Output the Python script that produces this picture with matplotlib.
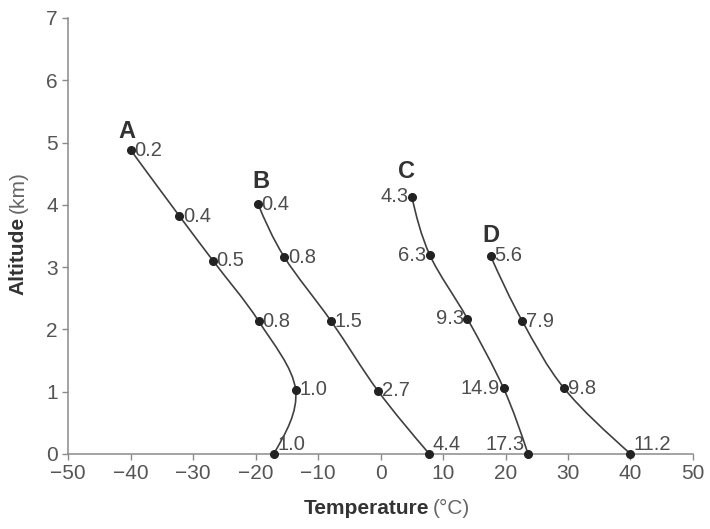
import numpy as np
import matplotlib
matplotlib.use("Agg")
import matplotlib.pyplot as plt
from matplotlib.path import Path
from matplotlib.patches import PathPatch

plt.rcParams['font.family'] = ['Liberation Sans', 'DejaVu Sans']

#==========================
# DATA (temperature, altitude, value labels)
#==========================
A_T = [-17.1, -13.6, -19.5, -26.8, -32.2, -40.0]
A_z = [0.0, 1.03, 2.13, 3.10, 3.82, 4.88]
A_lbl = ['1.0', '1.0', '0.8', '0.5', '0.4', '0.2']

B_T = [7.8, -0.4, -7.9, -15.4, -19.6]
B_z = [0.0, 1.01, 2.13, 3.16, 4.01]
B_lbl = ['4.4', '2.7', '1.5', '0.8', '0.4']

C_T = [23.6, 19.7, 13.9, 7.9, 5.0]
C_z = [0.0, 1.05, 2.17, 3.19, 4.13]
C_lbl = ['17.3', '14.9', '9.3', '6.3', '4.3']

D_T = [40.0, 29.4, 22.7, 17.6]
D_z = [0.0, 1.05, 2.13, 3.18]
D_lbl = ['11.2', '9.8', '7.9', '5.6']

xticks = [-50, -40, -30, -20, -10, 0, 10, 20, 30, 40, 50]
yticks = [0, 1, 2, 3, 4, 5, 6, 7]

LINE = '#404040'
TXT = '#4d4d4d'
AXC = '#8a8a8a'


def smooth_path(xs, ys):
    # Catmull-Rom style bezier through the points, natural ends
    pts = np.column_stack([xs, ys]).astype(float)
    n = len(pts)
    tang = np.zeros_like(pts)
    tang[1:-1] = (pts[2:] - pts[:-2]) / 2.0
    tang[0] = (3 * (pts[1] - pts[0]) - tang[1]) / 2.0
    tang[-1] = (3 * (pts[-1] - pts[-2]) - tang[-2]) / 2.0
    verts = [pts[0]]
    codes = [Path.MOVETO]
    for i in range(n - 1):
        verts += [pts[i] + tang[i] / 3.0, pts[i + 1] - tang[i + 1] / 3.0, pts[i + 1]]
        codes += [Path.CURVE4] * 3
    return Path(verts, codes)


fig = plt.figure(figsize=(7.10, 5.29), dpi=100)
ax = fig.add_axes([0.096, 0.142, 0.880, 0.824])

series = [(A_T, A_z, A_lbl, 'right'), (B_T, B_z, B_lbl, 'right'),
          (C_T, C_z, C_lbl, 'left'), (D_T, D_z, D_lbl, 'right')]

for T, z, lbl, side in series:
    ax.add_patch(PathPatch(smooth_path(T, z), fc='none', ec=LINE, lw=1.2, clip_on=False))
    ax.plot(T, z, 'o', color='#222222', ms=5.5, clip_on=False, zorder=5)
    for k, (t, h, s) in enumerate(zip(T, z, lbl)):
        dy = 7 if k == 0 else 0
        if side == 'right':
            ax.annotate(s, (t, h), xytext=(2.5, dy), textcoords='offset points',
                        ha='left', va='center', fontsize=14.5, color=TXT)
        else:
            ax.annotate(s, (t, h), xytext=(-2.5, dy), textcoords='offset points',
                        ha='right', va='center', fontsize=14.5, color=TXT)

# curve letters
ax.text(A_T[-1] - 0.6, A_z[-1] + 0.3, 'A', fontsize=17, fontweight='bold', color='#333333', ha='center', va='center')
ax.text(B_T[-1] + 0.5, B_z[-1] + 0.37, 'B', fontsize=17, fontweight='bold', color='#333333', ha='center', va='center')
ax.text(C_T[-1] - 0.9, C_z[-1] + 0.4, 'C', fontsize=17, fontweight='bold', color='#333333', ha='center', va='center')
ax.text(D_T[-1] + 0.1, D_z[-1] + 0.33, 'D', fontsize=17, fontweight='bold', color='#333333', ha='center', va='center')

ax.set_xlim(-50, 50)
ax.set_ylim(0, 7)
ax.set_xticks(xticks)
ax.set_yticks(yticks)
ax.tick_params(labelsize=15, colors=AXC, labelcolor='#555555', length=4, width=1, direction='out')
for sp in ['top', 'right']:
    ax.spines[sp].set_visible(False)
for sp in ['left', 'bottom']:
    ax.spines[sp].set_color(AXC)
    ax.spines[sp].set_linewidth(1.1)

# axis labels: bold word plus light unit
fig.text(0.605, 0.038, 'Temperature', fontsize=15, fontweight='bold', color='#333333', ha='right', va='center')
fig.text(0.610, 0.038, '(°C)', fontsize=15, color='#666666', ha='left', va='center')
fig.text(0.026, 0.59, 'Altitude', fontsize=15, fontweight='bold', color='#333333', ha='center', va='top', rotation=90)
fig.text(0.026, 0.597, '(km)', fontsize=15, color='#666666', ha='center', va='bottom', rotation=90)

fig.savefig('out.png', dpi=100)
